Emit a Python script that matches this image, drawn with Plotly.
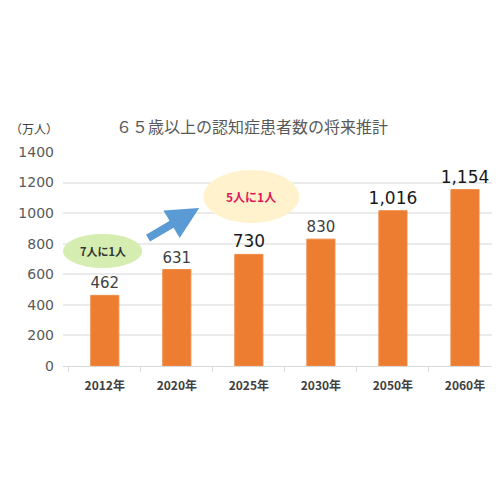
import plotly.graph_objects as go

# データ
years = ['2012年', '2020年', '2025年', '2030年', '2050年', '2060年']
patients = [462, 631, 730, 830, 1016, 1154]
value_labels = ['462', '631', '730', '830', '1,016', '1,154']
label_sizes = [15, 15, 17, 15, 17, 17]
label_colors = ['#404040', '#404040', '#1a1a1a', '#404040', '#1a1a1a', '#1a1a1a']
y_ticks = [0, 200, 400, 600, 800, 1000, 1200, 1400]

JP_FONT = 'Noto Sans CJK JP'
NUM_FONT = 'DejaVu Sans'

fig = go.Figure()
fig.add_trace(go.Bar(
    x=years, y=patients,
    text=value_labels, textposition='outside', cliponaxis=False, constraintext='none',
    textfont=dict(family=NUM_FONT, size=label_sizes, color=label_colors),
    marker=dict(color='#ED7D31', line=dict(color='#F08A45', width=1)),
    width=0.39,
))

# 吹き出し（楕円）
fig.add_shape(type='circle', xref='x', yref='y', x0=-0.58, x1=0.52, y0=641, y1=863,
              fillcolor='#D5EDB0', line=dict(width=0), layer='above')
fig.add_shape(type='circle', xref='x', yref='y', x0=1.37, x1=2.70, y0=935, y1=1282,
              fillcolor='#FFF2CC', line=dict(width=0), layer='above')

fig.add_annotation(x=-0.03, y=752, xref='x', yref='y', text='7人に1人', showarrow=False,
                   font=dict(family=JP_FONT, size=11, color='#333333', weight='bold'))
fig.add_annotation(x=2.03, y=1108, xref='x', yref='y', text='5人に1人', showarrow=False,
                   font=dict(family=JP_FONT, size=12, color='#E0185C', weight='bold'))

# 矢印
fig.add_annotation(x=1.31, y=1033, ax=0.58, ay=831, xref='x', yref='y', axref='x', ayref='y',
                   text='', showarrow=True, arrowhead=2, arrowsize=0.8, arrowwidth=8,
                   arrowcolor='#5B9BD5')

# タイトル・単位（ページ上のピクセル位置）
fig.add_annotation(x=252, y=126, text='６５歳以上の認知症患者数の将来推計',
                   showarrow=False, font=dict(family=JP_FONT, size=16, color='#595959'))
fig.add_annotation(x=34, y=128, text='（万人）', showarrow=False,
                   font=dict(family=JP_FONT, size=12, color='#404040'))

# ページの余白 8px を考慮して紙座標に変換
W, H = 500, 500
OFF = 8
L, R, T, B = 55, 7, 144, 142
for ann in fig.layout.annotations[-2:]:
    ann.xref = 'paper'
    ann.yref = 'paper'
    ann.xanchor = 'center'
    ann.yanchor = 'middle'
    ann.x = (ann.x - OFF - L) / (W - L - R)
    ann.y = (H - B - (ann.y - OFF)) / (H - T - B)

fig.update_layout(
    width=W, height=H,
    margin=dict(l=L, r=R, t=T, b=B),
    paper_bgcolor='white', plot_bgcolor='white',
    showlegend=False,
    xaxis=dict(
        type='category',
        tickfont=dict(family=JP_FONT, size=12, color='#404040', weight='bold'),
        showline=True, linecolor='#D9D9D9', linewidth=1,
        ticks='outside', ticklen=5, tickcolor='#D9D9D9', tickson='boundaries',
        showgrid=False, ticklabelstandoff=9,
    ),
    yaxis=dict(
        range=[0, 1400], tickvals=y_ticks,
        tickfont=dict(family=NUM_FONT, size=14, color='#595959'),
        showgrid=True, gridcolor='#EBEBEB', gridwidth=2,
        zeroline=False, ticks='', ticklabelstandoff=8,
    ),
)

fig.write_html('out.html')
